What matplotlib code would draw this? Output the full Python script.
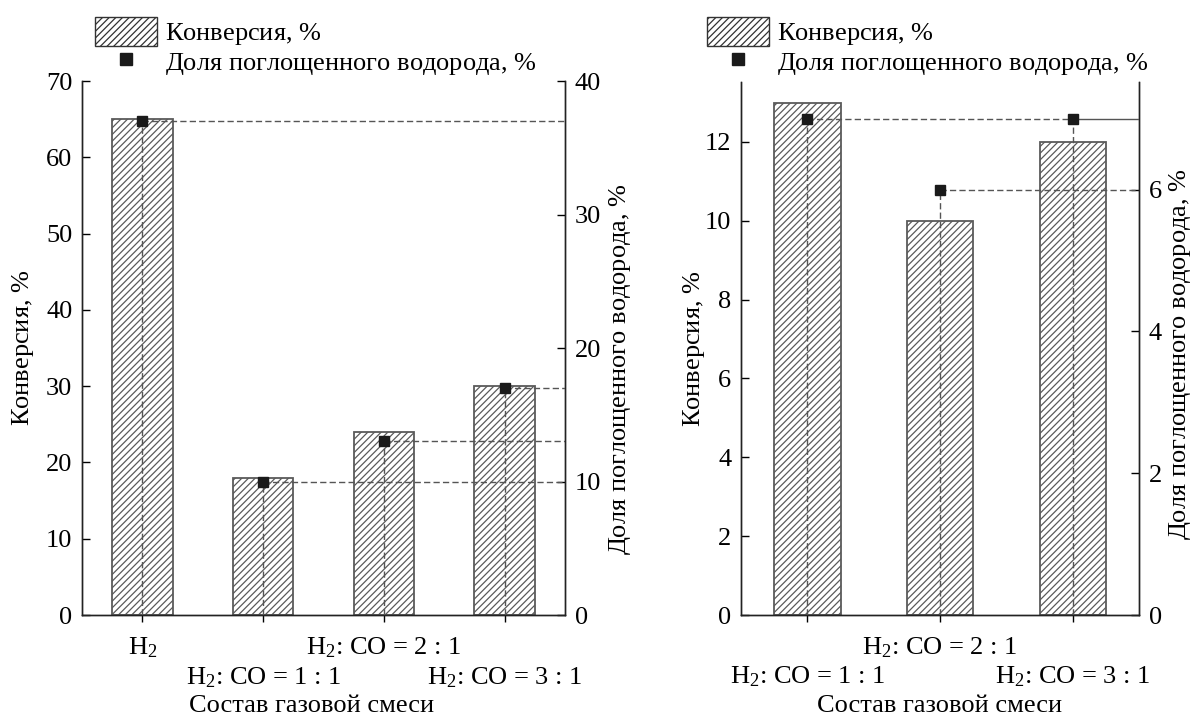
import matplotlib.pyplot as plt
from matplotlib.patches import Patch
from matplotlib.lines import Line2D

plt.rcParams['font.family'] = ['Liberation Serif', 'DejaVu Serif']
plt.rcParams['mathtext.fontset'] = 'custom'
plt.rcParams['mathtext.rm'] = 'Liberation Serif'
plt.rcParams['mathtext.it'] = 'Liberation Serif:italic'
plt.rcParams['hatch.color'] = '#555555'
plt.rcParams['hatch.linewidth'] = 0.9
plt.rcParams['font.size'] = 19

# left panel: four gas mixtures
left_row1 = ['H$_2$', '', 'H$_2$: CO = 2 : 1', '']
left_row2 = ['', 'H$_2$: CO = 1 : 1', '', 'H$_2$: CO = 3 : 1']
left_conv = [65, 18, 24, 30]
left_h2 = [37, 10, 13, 17]

# right panel: three syngas mixtures
right_row1 = ['', 'H$_2$: CO = 2 : 1', '']
right_row2 = ['H$_2$: CO = 1 : 1', '', 'H$_2$: CO = 3 : 1']
right_conv = [13, 10, 12]
right_h2 = [7, 6, 7]

GRAY = '#555555'
DASH = (0, (4.5, 2.3))
conv_label = r'Конверсия, $\it{\%}$'
h2_label = r'Доля поглощенного водорода, $\it{\%}$'
xlabel = 'Состав газовой смеси'


def draw_panel(fig, rect, row1, row2, conv, h2, ylim1, ylim2, yticks1, yticks2, lab_x):
    ax = fig.add_axes(rect)
    ax2 = ax.twinx()
    xs = list(range(len(conv)))
    ax.bar(xs, conv, width=0.5, color='white', edgecolor='#5a5a5a', linewidth=1.3, hatch='/////')
    ax.set_xlim(-0.5, len(conv) - 0.5)
    ax.set_ylim(*ylim1)
    ax2.set_ylim(*ylim2)
    ax.set_yticks(yticks1)
    ax2.set_yticks(yticks2)
    ax.set_xticks(xs)
    ax.set_xticklabels([])
    ax.tick_params(axis='x', direction='out', length=5, width=1)
    ax.tick_params(axis='y', direction='in', length=6, width=1, pad=7)
    ax2.tick_params(axis='y', direction='in', length=6, width=1, pad=7)
    for a in (ax, ax2):
        a.spines['top'].set_visible(False)
        for s in ('left', 'right', 'bottom'):
            a.spines[s].set_linewidth(1.0)
            a.spines[s].set_color('#222222')
    # staggered category labels, two rows under the ticks
    tr = ax.get_xaxis_transform()
    for x, t1, t2 in zip(xs, row1, row2):
        ax.text(x, -0.0730, t1, transform=tr, ha='center', va='baseline')
        ax.text(x, -0.1292, t2, transform=tr, ha='center', va='baseline')
    ax.set_xlabel(xlabel, va='baseline')
    ax.xaxis.set_label_coords(lab_x[0], -0.1816)
    ax.set_ylabel(conv_label, va='center')
    ax.yaxis.set_label_coords(lab_x[1], 0.5)
    ax2.set_ylabel(h2_label, va='center')
    ax2.yaxis.set_label_coords(lab_x[2], lab_x[3])
    # dashed guide lines from each point down to the axis
    ax2.vlines(xs, 0, h2, colors=GRAY, linestyles=DASH, linewidth=1.0, zorder=3)
    ax2.plot(xs, h2, 's', color='#1a1a1a', markersize=7.5, zorder=4)
    return ax, ax2, xs


fig = plt.figure(figsize=(11.91, 7.15), dpi=100)

ax, ax2, xs = draw_panel(fig, [0.06885, 0.13986, 0.40554, 0.74685], left_row1, left_row2,
                         left_conv, left_h2, (0, 70), (0, 40), range(0, 71, 10), range(0, 41, 10),
                         (0.476, -0.122, 1.114, 0.46))
ax2.hlines(left_h2, xs, 3.5, colors=GRAY, linestyles=DASH, linewidth=1.0, zorder=3)

bx, bx2, xs = draw_panel(fig, [0.62217, 0.13986, 0.33417, 0.74545], right_row1, right_row2,
                         right_conv, right_h2, (0, 13.52), (0, 7.52), range(0, 13, 2), range(0, 7, 2),
                         (0.5, -0.118, 1.103, 0.49))
bx2.hlines(right_h2[0], xs[0], xs[2], colors=GRAY, linestyles=DASH, linewidth=1.0, zorder=3)
bx2.hlines(right_h2[1], xs[1], 2.5, colors=GRAY, linestyles=DASH, linewidth=1.0, zorder=3)
bx2.hlines(right_h2[2], xs[2], 2.5, colors=GRAY, linestyles='-', linewidth=1.0, zorder=3)

handles = [Patch(facecolor='white', edgecolor='#333333', hatch='/////', linewidth=1),
           Line2D([], [], marker='s', color='#1a1a1a', linestyle='none', markersize=9)]
for x0 in (95 / 1191, 707 / 1191):
    fig.legend(handles, [conv_label, h2_label], loc='upper left',
               bbox_to_anchor=(x0, 1 - 17 / 715), frameon=False, borderpad=0, borderaxespad=0,
               handlelength=2.35, handleheight=1.3, labelspacing=0.0, handletextpad=0.3)

fig.savefig('out.png', dpi=100)
